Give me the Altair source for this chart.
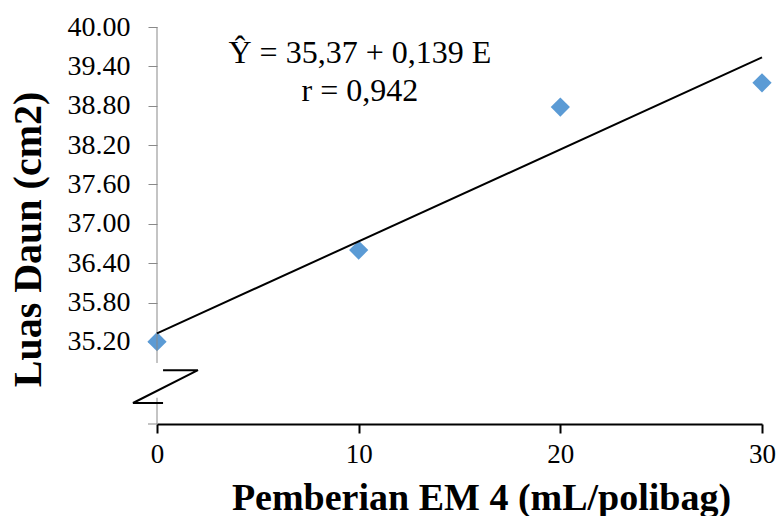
import altair as alt
import pandas as pd

# ---- data ----
em4 = [0, 10, 20, 30]
luas_daun = [35.205, 36.60, 38.78, 39.15]
x_ticks = [0, 10, 20, 30]
y_labelled_ticks = [35.20, 35.80, 36.40, 37.00, 37.60, 38.20, 38.80, 39.40, 40.00]
equation_lines = ["Ŷ = 35,37 + 0,139 E", "r = 0,942"]

# axis extent and break (data units)
Y_MIN, Y_MAX = 33.95, 40.00
BREAK_TICK = 34.27
AXIS_GAP_LOW, AXIS_GAP_HIGH = 34.35, 34.88
zig_x = [0.3, 2.03, -1.19, 0.3]
zig_y = [34.77, 34.77, 34.27, 34.27]
eq_x = [10.06, 10.06]
eq_y = [39.45, 38.87]

FONT = "Liberation Serif"
GRAY = "#898989"
TICK = 9

pts = pd.DataFrame({"E": em4, "L": luas_daun})
zig = pd.DataFrame({"x": zig_x, "y": zig_y, "i": list(range(len(zig_x)))})
axis_seg = pd.DataFrame({"y": [AXIS_GAP_HIGH, Y_MIN], "y2": [Y_MAX, AXIS_GAP_LOW]})
extra_ticks = pd.DataFrame({"y": [Y_MIN, BREAK_TICK]})
eq = pd.DataFrame({"x": eq_x, "y": eq_y, "t": equation_lines})

x_scale = alt.Scale(domain=[0, 30], nice=False, zero=False)
y_scale = alt.Scale(domain=[Y_MIN, Y_MAX], nice=False, zero=False)

x_axis = alt.Axis(values=x_ticks, title="Pemberian EM 4 (mL/polibag)",
                  labelOverlap=False, labelFont=FONT, labelFontSize=27)
y_axis = alt.Axis(
    values=y_labelled_ticks, title="Luas Daun (cm2)",
    format=".2f", labelOverlap=False, labelFont=FONT, labelFontSize=28,
)

base = alt.Chart(pts)

points = base.mark_point(shape="diamond", filled=True, size=370, color="#5B9BD5", opacity=1).encode(
    x=alt.X("E:Q", scale=x_scale, axis=x_axis),
    y=alt.Y("L:Q", scale=y_scale, axis=y_axis),
)

trend = base.transform_regression("E", "L", extent=[0, 30]).mark_line(
    color="black", strokeWidth=2
).encode(x=alt.X("E:Q", scale=x_scale), y=alt.Y("L:Q", scale=y_scale))

yline = alt.Chart(axis_seg).mark_rule(color=GRAY, strokeWidth=1).encode(
    x=alt.value(0), y=alt.Y("y:Q", scale=y_scale), y2="y2:Q"
)

yticks_extra = alt.Chart(extra_ticks).mark_rule(color=GRAY, strokeWidth=1, clip=False).encode(
    x=alt.value(-TICK), x2=alt.value(0), y=alt.Y("y:Q", scale=y_scale)
)

zigzag = alt.Chart(zig).mark_line(color="black", strokeWidth=2, clip=False).encode(
    x=alt.X("x:Q", scale=x_scale), y=alt.Y("y:Q", scale=y_scale), order="i:O"
)

eq_text = alt.Chart(eq).mark_text(
    font=FONT, fontSize=32, color="black", align="center", baseline="alphabetic"
).encode(x=alt.X("x:Q", scale=x_scale), y=alt.Y("y:Q", scale=y_scale), text="t:N")

chart = (
    alt.layer(points, yline, yticks_extra, trend, zigzag, eq_text)
    .properties(
        width=605, height=397,
        autosize=alt.AutoSizeParams(type="none"),
        padding={"left": 157, "top": 27, "right": 16, "bottom": 92},
        background="white",
    )
    .configure_view(stroke=None)
    .configure_axis(
        grid=False, labelFont=FONT, labelColor="black",
        labelFlush=False, tickSize=TICK,
        titleFont=FONT, titleFontWeight="bold", titleColor="black",
    )
    .configure_axisX(
        domainColor="black", domainWidth=2, tickColor="black", tickWidth=2,
        labelPadding=8, labelBaseline="top",
        titleFontSize=38, titleX=324, titleY=85, titleAlign="center",
        titleBaseline="alphabetic",
    )
    .configure_axisY(
        domain=False, tickColor=GRAY, tickWidth=1, labelPadding=18,
        titleFontSize=40, titleX=-129, titleY=212, titleAngle=-90,
        titleAlign="center", titleBaseline="middle",
    )
)

chart.save("out.html", embed_options={"renderer": "svg", "actions": False})
